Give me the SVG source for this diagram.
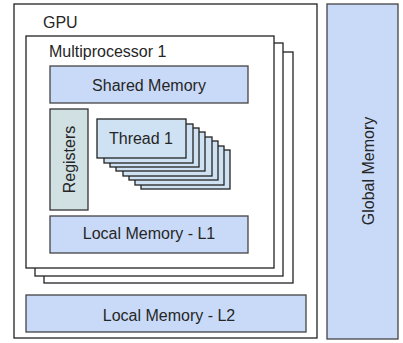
<svg xmlns="http://www.w3.org/2000/svg" width="403" height="343" viewBox="0 0 403 343">
<style>
.frame{fill:#ffffff;stroke:#222;stroke-width:1.3}
.mem{fill:#c9daf8;stroke:#444;stroke-width:1.3}
.thr{fill:#cfe2f3;stroke:#222;stroke-width:1.3}
.reg{fill:#d0e0e3;stroke:#333;stroke-width:1.3}
text{font-family:"Liberation Sans",Arial,sans-serif;font-size:16px;fill:#262626}
.c{text-anchor:middle}
</style>
<rect width="403" height="343" fill="#ffffff"/>
<g id="gpu">
<rect class="frame" x="14" y="4" width="303" height="334"/>
<text x="43" y="28">GPU</text>
</g>
<g id="global-memory">
<rect class="mem" x="327" y="4" width="71" height="335"/>
<text class="c" transform="translate(374,171) rotate(-90)">Global Memory</text>
</g>
<g id="multiprocessor">
<rect class="frame" x="44" y="52" width="249" height="231"/>
<rect class="frame" x="35" y="43" width="248" height="233"/>
<rect class="frame" x="26" y="36" width="248" height="232"/>
<text x="49" y="56.5">Multiprocessor 1</text>
</g>
<g id="shared-memory">
<rect class="mem" x="50" y="66" width="198" height="37"/>
<text class="c" x="149" y="91">Shared Memory</text>
</g>
<g id="registers">
<rect class="reg" x="50" y="109" width="38" height="101"/>
<text class="c" transform="translate(74.5,159.5) rotate(-90)">Registers</text>
</g>
<g id="threads">
<rect class="thr" x="141" y="150" width="89" height="39"/>
<rect class="thr" x="135" y="146" width="89" height="39"/>
<rect class="thr" x="129" y="141" width="89" height="39"/>
<rect class="thr" x="123" y="137" width="89" height="39"/>
<rect class="thr" x="116" y="132" width="89" height="39"/>
<rect class="thr" x="110" y="128" width="89" height="39"/>
<rect class="thr" x="104" y="124" width="89" height="39"/>
<rect class="thr" x="97" y="119" width="89" height="39"/>
<text class="c" x="141" y="144">Thread 1</text>
</g>
<g id="local-l1">
<rect class="mem" x="50" y="216" width="198" height="37"/>
<text class="c" x="149" y="239">Local Memory - L1</text>
</g>
<g id="local-l2">
<rect class="mem" x="26" y="295" width="280" height="37"/>
<text class="c" x="169" y="320.5" font-size="16.5">Local Memory - L2</text>
</g>
<g id="connectors"></g>
</svg>
